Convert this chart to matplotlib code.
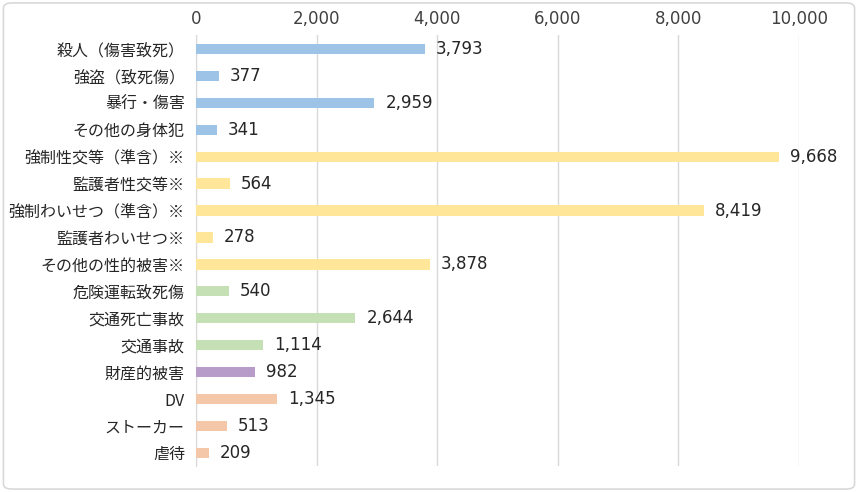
import matplotlib.pyplot as plt
from matplotlib.patches import FancyBboxPatch

plt.rcParams['font.family'] = ['Noto Sans CJK JP', 'DejaVu Sans']

# 被害の種類と件数
categories = ['殺人（傷害致死）', '強盗（致死傷）', '暴行・傷害', 'その他の身体犯',
              '強制性交等（準含）※', '監護者性交等※', '強制わいせつ（準含）※', '監護者わいせつ※',
              'その他の性的被害※', '危険運転致死傷', '交通死亡事故', '交通事故',
              '財産的被害', 'DV', 'ストーカー', '虐待']
values = [3793, 377, 2959, 341, 9668, 564, 8419, 278, 3878, 540, 2644, 1114, 982, 1345, 513, 209]
groups = ['body'] * 4 + ['sex'] * 5 + ['traffic'] * 3 + ['property'] + ['other'] * 3
xticks = [0, 2000, 4000, 6000, 8000, 10000]

group_colors = {'body': '#9DC3E6', 'sex': '#FFE699', 'traffic': '#C5E0B4',
                'property': '#B79BC9', 'other': '#F4C7A9'}
colors = [group_colors[g] for g in groups]

fig = plt.figure(figsize=(8.58, 4.92), dpi=100)
ax = fig.add_axes([0.2284, 0.052, 0.7028, 0.876])

y = list(range(len(categories)))
ax.barh(y, values, height=0.38, color=colors, zorder=3)
for yi, v in zip(y, values):
    ax.annotate(f'{v:,}', (v, yi), xytext=(8, 0), textcoords='offset points',
                va='center', ha='left', fontsize=12, color='#262626', family='DejaVu Sans')

ax.set_ylim(len(categories) - 0.5, -0.5)
ax.set_xlim(0, 10000)
ax.set_yticks(y)
ax.set_yticklabels(categories, fontsize=11.5, color='#262626')
ax.set_xticks(xticks)
ax.set_xticklabels([f'{t:,}' for t in xticks], fontsize=12, color='#404040', family='DejaVu Sans')
ax.xaxis.tick_top()
ax.tick_params(axis='y', length=0, pad=8)
ax.tick_params(axis='x', length=0, pad=5)
ax.grid(axis='x', color='#D9D9D9', linewidth=1, zorder=0)
for s in ['top', 'right', 'bottom']:
    ax.spines[s].set_visible(False)
ax.spines['left'].set_color('#D9D9D9')

border = FancyBboxPatch((0.004, 0.006), 0.992, 0.988, boxstyle='round,pad=0,rounding_size=0.01',
                        transform=fig.transFigure, fill=False, edgecolor='#D9D9D9', linewidth=1.2)
fig.patches.append(border)

fig.savefig('out.png', dpi=100)
